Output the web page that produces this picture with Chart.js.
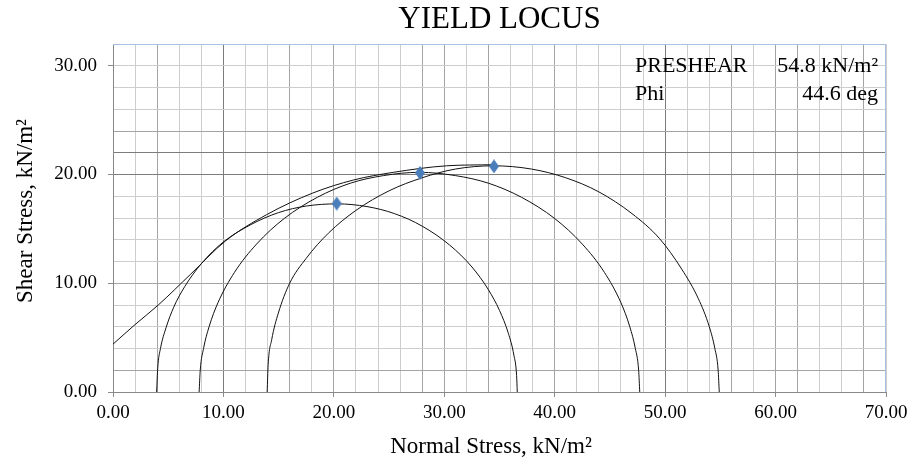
<!DOCTYPE html>
<html>
<head>
<meta charset="utf-8">
<title>Yield Locus</title>
<script src="https://cdn.jsdelivr.net/npm/chart.js@4/dist/chart.umd.min.js"></script>
<style>
  html, body { margin: 0; padding: 0; background: #fff; }
  #wrap { width: 914px; height: 462px; }
</style>
</head>
<body>
<div id="wrap"><canvas id="chart" width="914" height="462"></canvas></div>
<script>
// ── Data ─────────────────────────────────────────────────────────────────────

const chartTitle = 'YIELD LOCUS';
const xTitle = 'Normal Stress, kN/m²';
const yTitle = 'Shear Stress, kN/m²';

const xTicks = [0, 10, 20, 30, 40, 50, 60, 70];
const yTicks = [0, 10, 20, 30];

const infoLabels = ['PRESHEAR', 'Phi'];
const infoValues = ['54.8 kN/m²', '44.6 deg'];

// shear points (blue diamonds)
const shearSigma = [20.26, 27.8, 34.5];
const shearTau   = [17.33, 20.15, 20.75];

// yield locus
const locusSigma = [0, 2.0, 4.1, 7.0, 10.2, 13.9, 18.1, 21.8, 25.4, 30.2, 34.4];
const locusTau   = [4.4, 6.2, 8.0, 10.8, 13.9, 16.3, 18.3, 19.5, 20.2, 20.8, 20.9];

// Mohr circle 1
const circle1Sigma = [3.95, 4.05, 4.3, 4.8, 5.5, 6.5, 8.0, 10.0, 12.5, 15.0, 17.5, 20.28,
                      23.0, 25.5, 28.0, 30.5, 32.5, 34.0, 35.0, 35.8, 36.3, 36.55, 36.61];
const circle1Tau   = [0, 2.2, 4.0, 5.9, 7.8, 9.7, 11.8, 13.8, 15.4, 16.5, 17.1, 17.3,
                      17.05, 16.4, 15.25, 13.5, 11.5, 9.4, 7.5, 5.4, 3.4, 1.5, 0];

// Mohr circle 2
const circle2Sigma = [7.8, 7.9, 8.2, 8.7, 9.5, 11.0, 13.0, 15.5, 18.5, 21.5, 24.5, 27.75,
                      31.0, 34.0, 37.0, 40.0, 42.5, 44.5, 46.0, 46.8, 47.3, 47.6, 47.7];
const circle2Tau   = [0, 2.0, 4.0, 6.0, 8.2, 11.0, 13.6, 15.95, 17.9, 19.2, 19.9, 20.2,
                      19.9, 19.2, 17.9, 15.95, 13.6, 11.0, 8.2, 6.0, 4.0, 2.0, 0];

// Mohr circle 3
const circle3Sigma = [13.96, 14.05, 14.37, 14.97, 16.0, 17.5, 19.5, 22.0, 25.0, 28.0, 31.0, 34.43,
                      37.9, 41.0, 44.0, 47.0, 49.5, 51.5, 53.0, 54.0, 54.5, 54.8, 54.9];
const circle3Tau   = [0, 2.5, 4.8, 7.25, 10.0, 12.3, 14.6, 16.7, 18.5, 19.7, 20.5, 20.8,
                      20.5, 19.7, 18.4, 16.4, 14.1, 11.3, 8.6, 6.0, 4.0, 2.0, 0];

// ── Helpers ──────────────────────────────────────────────────────────────────

const SERIF = '"Liberation Serif", "Times New Roman", serif';

function pts(xs, ys) {
  return xs.map((x, i) => ({ x, y: ys[i] }));
}

function curve(xs, ys) {
  return {
    type: 'scatter',
    data: pts(xs, ys),
    showLine: true,
    borderColor: '#111',
    borderWidth: 1,
    pointRadius: 0,
    cubicInterpolationMode: 'monotone',
    fill: false,
  };
}

// tall blue diamond like the Excel marker
function diamondMarker() {
  const c = document.createElement('canvas');
  c.width = 10; c.height = 14;
  const g = c.getContext('2d');
  g.fillStyle = '#4a7ebb';
  g.beginPath();
  g.moveTo(5, 0); g.lineTo(10, 7); g.lineTo(5, 14); g.lineTo(0, 7);
  g.closePath();
  g.fill();
  return c;
}

// gridline shades: the scanned original shows some lines heavier than others
const DARK = '#7c7c7c', MID = '#a4a4a4', LIGHT = '#cdcdcd';
const xShade = { 10: DARK, 50: DARK, 0: MID, 4: MID, 16: MID, 20: MID, 28: MID, 30: MID,
                 34: MID, 40: MID, 56: MID, 60: MID, 62: MID, 68: MID };
const yShade = { 20: DARK, 22: DARK, 0: MID, 2: MID, 10: MID, 24: MID };

const shadeOf = map => ctx => (ctx.tick && map[ctx.tick.value]) || LIGHT;
const tickOf = labels => ctx => (ctx.tick && labels.includes(ctx.tick.value)) ? '#8c8c8c' : 'rgba(0,0,0,0)';

// title, axis titles, info text and the light frame on top/right
const decorPlugin = {
  id: 'decor',
  afterDraw(chart) {
    const { ctx, chartArea: a } = chart;
    ctx.save();
    ctx.strokeStyle = '#a9c1e0';
    ctx.lineWidth = 1;
    ctx.beginPath();
    ctx.moveTo(a.left, Math.round(a.top) + 0.5);
    ctx.lineTo(Math.round(a.right) - 0.5, Math.round(a.top) + 0.5);
    ctx.lineTo(Math.round(a.right) - 0.5, a.bottom);
    ctx.stroke();

    ctx.fillStyle = '#000';
    ctx.textBaseline = 'alphabetic';
    ctx.font = '31px ' + SERIF;
    ctx.textAlign = 'center';
    ctx.fillText(chartTitle, (a.left + a.right) / 2, 28);

    // axis titles
    ctx.font = '23px ' + SERIF;
    ctx.fillText(xTitle, 491, 453);
    ctx.save();
    ctx.translate(32, 211);
    ctx.rotate(-Math.PI / 2);
    ctx.fillText(yTitle, 0, 0);
    ctx.restore();

    ctx.font = '22px ' + SERIF;
    infoLabels.forEach((t, i) => {
      const y = a.top + 28 + i * 28;
      ctx.textAlign = 'left';
      ctx.fillText(t, a.right - 251, y);
      ctx.textAlign = 'right';
      ctx.fillText(infoValues[i], a.right - 8, y);
    });
    ctx.restore();
  },
};

// ── Chart ────────────────────────────────────────────────────────────────────

const marker = diamondMarker();

new Chart(document.getElementById('chart'), {
  type: 'scatter',
  data: {
    datasets: [
      {
        data: pts(shearSigma, shearTau),
        pointStyle: marker,
        pointRadius: 6,
        showLine: false,
      },
      curve(locusSigma, locusTau),
      curve(circle1Sigma, circle1Tau),
      curve(circle2Sigma, circle2Tau),
      curve(circle3Sigma, circle3Tau),
    ],
  },
  options: {
    responsive: false,
    animation: false,
    devicePixelRatio: 1,
    layout: { padding: { left: 0, right: 28, top: 44, bottom: 0 } },
    plugins: {
      legend: { display: false },
      title: { display: false },
      tooltip: { enabled: false },
    },
    scales: {
      x: {
        type: 'linear',
        min: 0,
        max: 70,
        ticks: {
          stepSize: 2,
          autoSkip: false,
          maxRotation: 0,
          padding: 5,
          color: '#000',
          font: { family: SERIF, size: 19 },
          callback: v => xTicks.includes(v) ? v.toFixed(2) : '',
        },
        grid: { color: shadeOf(xShade), tickColor: tickOf(xTicks), tickLength: 5, lineWidth: 1 },
        border: { color: '#888' },
        title: { display: false },
        afterFit: s => { s.height = 70; },
      },
      y: {
        type: 'linear',
        min: 0,
        max: 32,
        ticks: {
          stepSize: 2,
          autoSkip: false,
          padding: 11,
          color: '#000',
          font: { family: SERIF, size: 19 },
          callback: v => yTicks.includes(v) ? v.toFixed(2) : '',
        },
        grid: { color: shadeOf(yShade), tickColor: tickOf(yTicks), tickLength: 5, lineWidth: 1 },
        border: { color: '#888' },
        title: { display: false },
        afterFit: s => { s.width = 113; },
      },
    },
  },
  plugins: [decorPlugin],
});
</script>
</body>
</html>
